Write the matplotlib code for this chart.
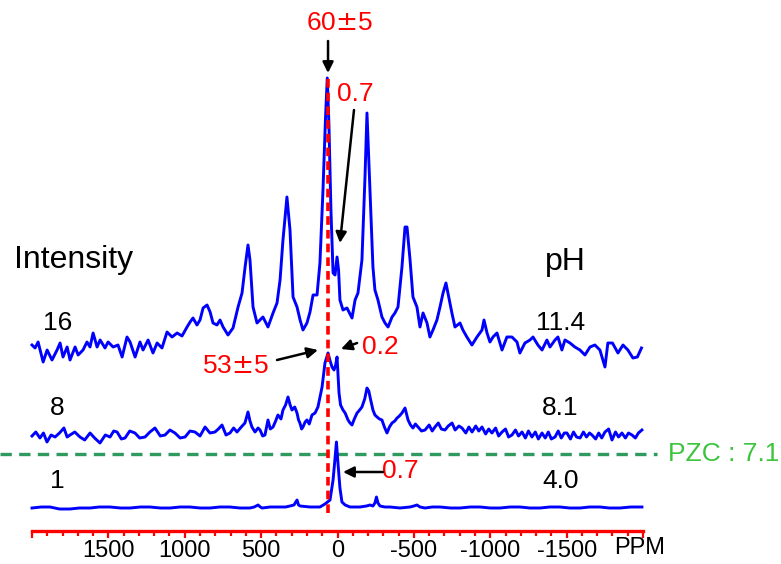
import numpy as np
import matplotlib
matplotlib.use('Agg')
import matplotlib.pyplot as plt

plt.rcParams['font.family'] = ['Liberation Sans', 'DejaVu Sans']

# spectrum at pH 11.4 (intensity 16)
ppm_top = [2000, 1980, 1960, 1927, 1901, 1869, 1836, 1816, 1797, 1770, 1751, 1718, 1698, 1666,
           1640, 1620, 1600, 1574, 1554, 1522, 1502, 1469, 1437, 1410, 1378, 1358, 1325, 1293,
           1273, 1240, 1208, 1181, 1149, 1116, 1083, 1050, 1018, 985, 965, 946, 920, 900, 880,
           854, 834, 815, 789, 769, 749, 717, 684, 651, 625, 605, 586, 573, 553, 527, 507, 488,
           455, 422, 396, 376, 357, 331, 311, 291, 265, 245, 226, 200, 180, 160, 134, 115, 95,
           79, 67, 56, 43, 29, 16, 3, -7, -16, -36, -62, -95, -115, -134, -160, -180, -193,
           -209, -232, -245, -265, -291, -311, -331, -357, -376, -396, -422, -442, -455, -475,
           -494, -520, -540, -560, -586, -605, -625, -651, -671, -691, -710, -723, -749, -769,
           -802, -821, -847, -880, -913, -946, -959, -979, -998, -1018, -1044, -1077, -1109,
           -1142, -1175, -1194, -1227, -1260, -1280, -1312, -1339, -1371, -1391, -1424, -1443,
           -1469, -1489, -1522, -1554, -1587, -1620, -1653, -1685, -1718, -1751, -1770, -1800,
           -1836, -1869, -1901, -1934, -1963, -1990]
int_top = [5, 2, 8, -12, 0, -10, 0, 7, -7, 3, -10, 3, -5, 0,
           8, 3, 17, 3, 10, 2, 8, 3, 5, -7, 13, 8, -7, 8,
           0, 10, -3, 7, 2, 18, 13, 17, 14, 23, 28, 32, 25, 30, 42,
           45, 38, 27, 25, 30, 23, 15, 22, 43, 57, 83, 105, 90, 43, 27, 30, 33,
           23, 37, 47, 70, 110, 153, 120, 53, 43, 30, 20, 27, 38, 55, 55, 87, 160,
           230, 272, 225, 140, 77, 75, 93, 80, 50, 40, 42, 32, 50, 57, 90, 173, 237,
           173, 83, 60, 50, 33, 27, 23, 33, 37, 43, 83, 123, 123, 90,
           53, 43, 23, 37, 27, 13, 20, 30, 43, 57, 67, 57, 37, 23,
           27, 20, 13, 5, 13, 20, 30, 17, 8, 13, 17, 0, 13,
           13, 8, -3, 7, 10, 13, 5, 0, 10, 3, 10, 13,
           0, 10, 7, 3, 0, -5, 3, 5, 0, -17, 7, 7,
           -3, 5, 0, -8, -7, 2]

# spectrum at pH 8.1 (intensity 8)
ppm_mid = [2000, 1975, 1948, 1925, 1902, 1875, 1849, 1820, 1791, 1770,
           1751, 1720, 1686, 1655, 1620, 1590, 1555, 1520, 1489, 1465,
           1443, 1415, 1391, 1360, 1326, 1295, 1260, 1228, 1195, 1160,
           1129, 1097, 1064, 1030, 998, 966, 933, 900, 867, 835,
           802, 780, 756, 730, 704, 680, 658, 630, 606, 586,
           573, 560, 540, 520, 507, 490, 475, 455, 440, 422,
           405, 390, 370, 357, 340, 324, 310, 298, 280, 265,
           255, 246, 235, 226, 212, 200, 185, 167, 147, 128,
           101, 82, 62, 50, 36, 23, 12, 3, -10, -20,
           -36, -50, -69, -82, -95, -110, -128, -145, -160, -178,
           -193, -205, -213, -232, -245, -259, -275, -291, -307, -324,
           -340, -357, -375, -390, -405, -422, -442, -462, -478, -494,
           -510, -527, -550, -573, -600, -620, -638, -660, -680, -704,
           -725, -750, -770, -795, -815, -840, -860, -881, -905, -925,
           -946, -970, -990, -1011, -1035, -1055, -1077, -1100, -1120, -1142,
           -1165, -1185, -1208, -1230, -1250, -1273, -1295, -1315, -1339, -1360,
           -1380, -1400, -1424, -1445, -1465, -1485, -1502, -1525, -1545, -1565,
           -1588, -1610, -1630, -1650, -1666, -1690, -1710, -1730, -1751, -1775,
           -1797, -1820, -1840, -1862, -1885, -1905, -1928, -1950, -1970, -1993]
int_mid = [-1, 3, -3, 2, -7, 0, -2, 2, 7, -2,
           0, 3, -2, -5, 2, -3, -8, 0, -2, 4,
           3, -4, -3, 4, 2, -3, -2, 3, 7, -1,
           0, 5, 2, -3, -2, 4, 3, -1, 8, 2,
           3, 6, 10, 0, 2, 7, 3, 8, 12, 23,
           14, 8, 3, 7, 5, -1, 0, 15, 6, 8,
           14, 20, 16, 25, 30, 38, 30, 25, 28, 22,
           15, 12, 6, 8, 13, 15, 11, 20, 22, 28,
           48, 72, 82, 75, 68, 65, 70, 78, 42, 30,
           25, 22, 15, 12, 10, 16, 22, 25, 28, 36,
           47, 44, 38, 25, 20, 18, 16, 15, 8, 2,
           8, 12, 14, 17, 19, 22, 27, 15, 10, 7,
           11, 8, 4, 5, 10, 4, 8, 12, 6, 5,
           9, 12, 5, 9, 7, 2, 8, 3, 9, 4,
           8, 1, 6, 2, 7, -1, 3, 6, -2, 0,
           5, -1, 3, -3, 4, -2, 3, -4, 2, -3,
           3, -4, -2, 4, -3, 2, 2, -4, 3, -2,
           -3, 3, -2, 2, 0, -4, 2, -3, 3, 6,
           -5, 3, -2, 2, -3, 2, 0, -3, 2, 5]

# spectrum at pH 4.0 (intensity 1)
ppm_bot = [2000, 1940, 1882, 1820, 1751, 1690, 1620, 1560, 1489, 1420,
           1358, 1290, 1228, 1160, 1097, 1030, 966, 900, 835, 770,
           704, 640, 573, 545, 520, 505, 494, 440, 376, 340,
           311, 285, 265, 255, 245, 180, 115, 82, 49, 29,
           16, 7, -3, -16, -29, -50, -82, -147, -190, -213,
           -232, -245, -255, -265, -278, -310, -344, -409, -475, -500,
           -520, -540, -573, -620, -671, -740, -802, -870, -933, -1000,
           -1064, -1130, -1194, -1260, -1326, -1390, -1456, -1520, -1588, -1650,
           -1718, -1780, -1849, -1920, -1993]
int_bot = [0, 1, 1, -1, -1, 0, 0, 1, 1, 0,
           0, 1, 1, 0, 0, 1, 1, 0, 0, 1,
           1, 0, 0, 1, 3, 1, 0, 1, 1, 1,
           2, 3, 8, 3, 2, 1, 1, 4, 8, 28,
           50, 66, 45, 20, 6, 3, 1, 1, 2, 3,
           2, 5, 11, 5, 2, 1, 1, 0, 1, 2,
           3, 1, 0, 1, 1, 0, 0, 1, 1, 0,
           0, 1, 1, 0, 0, 1, 1, 0, 0, 1,
           1, 0, 0, 1, 1]

offsets = [181, 96, 23]
scans = ['16', '8', '1']
ph_values = ['11.4', '8.1', '4.0']
pzc = 7.1
tick_pos = [2000, 1500, 1000, 500, 0, -500, -1000, -1500, -2000]
tick_lab = ['', '1500', '1000', '500', '0', '-500', '-1000', '-1500', '']

fig = plt.figure(figsize=(7.81, 5.64), dpi=100)
ax = fig.add_axes([32/781, 33/564, 611/781, 531/564])
ax.set_xlim(2000, -2000)
ax.set_ylim(0, 531)

spectra = [(ppm_top, int_top), (ppm_mid, int_mid), (ppm_bot, int_bot)]
for (p, v), off in zip(spectra, offsets):
    ax.plot(p, np.array(v) + off, color='blue', lw=2.1, zorder=3, clip_on=False)

# red dashed reference line at ~60 ppm
ax.plot([60, 60], [18, 456], color='red', lw=2.6, ls=(0, (2.4, 1.4)), zorder=4)

# PZC line
ax.plot([2210, -2091], [77, 77], color='#2e9a5e', lw=2.4, ls=(0, (3.4, 2.2)),
        zorder=2, clip_on=False)
ax.text(-2164, 77, 'PZC : %.1f' % pzc, color='#3cc43c', fontsize=19,
        ha='left', va='center')

ax.text(2118, 271, 'Intensity', fontsize=23, ha='left', va='center')
ax.text(-1489, 269, 'pH', fontsize=23, ha='center', va='center')
for s, ph, off in zip(scans, ph_values, offsets):
    ax.text(1833, off + 27, s, fontsize=19, ha='center', va='center')
    ax.text(-1460, off + 27, ph, fontsize=19, ha='center', va='center')

# annotations
red_txt = [('60$\\pm$5', -10, 508), ('0.7', -115, 437), ('0.2', -278, 184),
           ('53$\\pm$5', 671, 165), ('0.7', -409, 60)]
for t, x, y in red_txt:
    ax.text(x, y, t, color='red', fontsize=19, ha='center', va='center')
arrows = [((62, 490), (62, 458)), ((-108, 421), (-16, 288)), ((-128, 188), (-23, 182)),
          ((396, 171), (128, 181)), ((-298, 59), (-36, 59))]
for start, end in arrows:
    ax.annotate('', xy=end, xytext=start,
                arrowprops=dict(arrowstyle='-|>', color='black', lw=1.8,
                                mutation_scale=16, shrinkA=0, shrinkB=0))

ax.text(-1980, -17, 'PPM', fontsize=17, ha='center', va='center')

for s in ['top', 'left', 'right']:
    ax.spines[s].set_visible(False)
ax.spines['bottom'].set_color('red')
ax.spines['bottom'].set_linewidth(2.4)
ax.set_yticks([])
ax.set_xticks(tick_pos)
ax.set_xticklabels(tick_lab)
ax.set_xticks(np.arange(-2000, 2001, 100), minor=True)
ax.tick_params(axis='x', which='major', colors='red', labelcolor='black',
               length=5, width=1.6, labelsize=17, pad=1.5)
ax.tick_params(axis='x', which='minor', colors='red', length=3.5, width=1.6)
ax.patch.set_visible(False)

fig.savefig('out.png', dpi=100)
